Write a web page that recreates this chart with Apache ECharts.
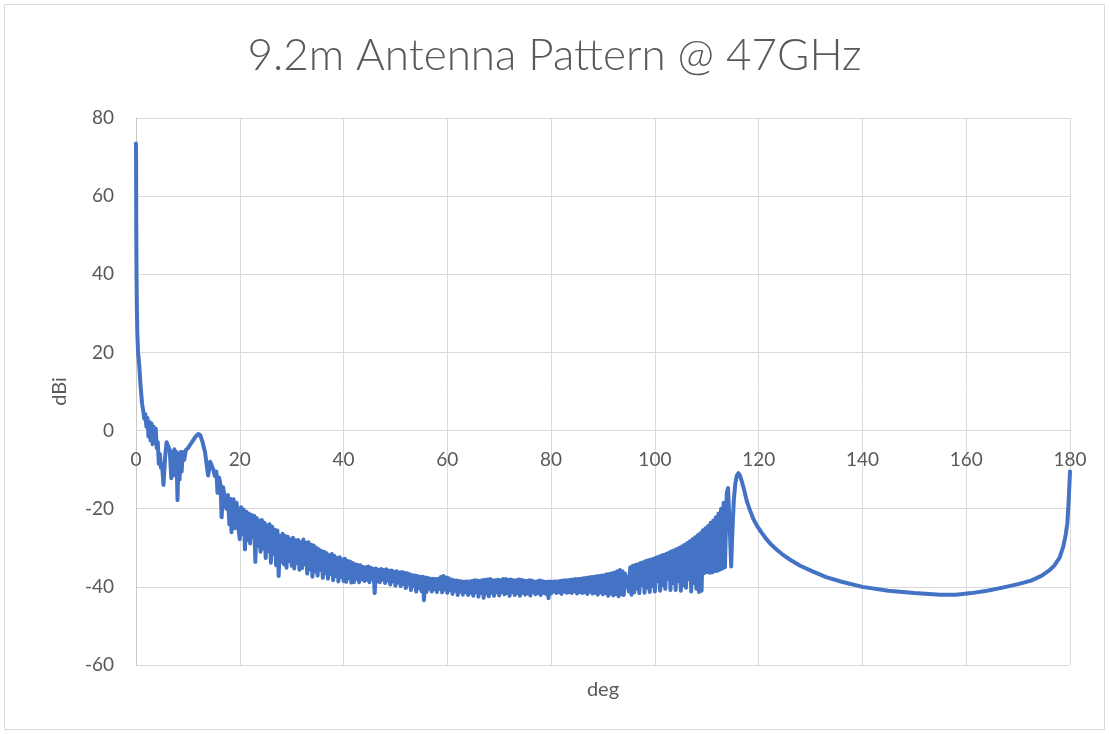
<!DOCTYPE html>
<html>
<head>
<meta charset="utf-8">
<script src="https://cdn.jsdelivr.net/npm/echarts@6/dist/echarts.min.js"></script>
<style>
html,body{margin:0;padding:0;background:#fff;}
#chart{width:1109px;height:734px;}
</style>
</head>
<body>
<div id="chart"></div>
<script>
// ---- Data: [deg, dBi] ----
const titleText = "9.2m Antenna Pattern @ 47GHz";
const xAxisName = "deg";
const yAxisName = "dBi";
const xTicks = [0, 20, 40, 60, 80, 100, 120, 140, 160, 180];
const yTicks = [-60, -40, -20, 0, 20, 40, 60, 80];

const mainLobe = [[0,73.5],[0.02,69],[0.05,52],[0.1,40],[0.15,33.5],[0.25,25],[0.4,20],[0.64,16.4],[0.85,12],[1.16,7],[1.4,5.0]];

const nearLobes = [[1.6,3.0],[1.8,4.2],[2.0,1.0],[2.2,3.2],[2.4,-1.5],[2.6,2.2],[2.8,-2.5],[3.0,1.8],[3.2,-3.5],[3.4,1.0],
[3.6,-2.0],[3.8,0.5],[4.0,-4.5],[4.2,-3.0],[4.4,-8.5],[4.6,-6.0],[4.8,-9.5],[5.0,-8.5],[5.3,-13.9],[5.6,-7.0],
[5.9,-3.0],[6.2,-2.8],[6.5,-5.0],[6.8,-12.2],[7.0,-5.5],[7.2,-11.5],[7.4,-4.8],[7.6,-9.0],[7.8,-5.5],[8.0,-17.8],
[8.2,-6.0],[8.4,-12.5],[8.6,-5.5],[8.8,-10.5],[9.0,-5.5],[9.3,-7.5],[9.6,-5.0],[10.0,-4.5],[10.5,-3.5],[11.0,-2.5],
[11.5,-1.5],[12.0,-0.9],[12.4,-1.2],[12.8,-2.8],[13.3,-5.5],[13.7,-9.5],[13.9,-11.5],[14.3,-8.0],[14.6,-7.8],[14.9,-10.0],
[15.2,-11.6],[15.5,-10.5],[15.7,-15.9],[16.0,-12.0],[16.3,-14.0],[16.5,-22.2],[16.8,-14.5],[17.1,-14.1],[17.4,-20.0],[17.7,-16.5],
[18.0,-24.0],[18.2,-17.5],[18.4,-26.0],[18.8,-17.6],[19.1,-25.0],[19.4,-18.5],[19.7,-24.5]];

// far sidelobe band, sampled every 0.25 deg from 20 to 95 deg (one row per degree)
const farLobes = [
[20.00,-27.8],[20.25,-19.6],[20.50,-26.5],[20.75,-20.2],
[21.00,-30.4],[21.25,-20.8],[21.50,-28.0],[21.75,-21.2],
[22.00,-28.9],[22.25,-21.6],[22.50,-27.2],[22.75,-21.8],
[23.00,-33.6],[23.25,-22.4],[23.50,-29.5],[23.75,-23.0],
[24.00,-31.0],[24.25,-22.9],[24.50,-30.2],[24.75,-23.6],
[25.00,-32.6],[25.25,-24.2],[25.50,-30.8],[25.75,-24.0],
[26.00,-33.8],[26.25,-24.6],[26.50,-31.5],[26.75,-25.4],
[27.00,-34.5],[27.25,-25.6],[27.50,-37.2],[27.75,-26.9],
[28.00,-33.6],[28.25,-26.4],[28.50,-34.2],[28.75,-27.0],
[29.00,-35.1],[29.25,-27.2],[29.50,-33.4],[29.75,-27.8],
[30.00,-34.6],[30.25,-27.4],[30.50,-35.3],[30.75,-28.1],
[31.00,-33.9],[31.25,-28.0],[31.50,-35.6],[31.75,-28.6],
[32.00,-35.2],[32.25,-27.9],[32.50,-34.3],[32.75,-28.7],
[33.00,-36.6],[33.25,-28.6],[33.50,-35.4],[33.75,-29.2],
[34.00,-37.4],[34.25,-29.4],[34.50,-36.1],[34.75,-30.0],
[35.00,-37.1],[35.25,-30.4],[35.50,-35.6],[35.75,-30.8],
[36.00,-37.7],[36.25,-31.0],[36.50,-36.5],[36.75,-31.4],
[37.00,-37.9],[37.25,-31.9],[37.50,-36.8],[37.75,-31.6],
[38.00,-38.3],[38.25,-32.1],[38.50,-37.2],[38.75,-32.6],
[39.00,-38.6],[39.25,-32.4],[39.50,-37.5],[39.75,-33.0],
[40.00,-38.5],[40.25,-32.8],[40.50,-38.7],[40.75,-33.4],
[41.00,-37.8],[41.25,-33.5],[41.50,-38.9],[41.75,-33.9],
[42.00,-38.8],[42.25,-34.2],[42.50,-37.9],[42.75,-34.4],
[43.00,-38.8],[43.25,-34.5],[43.50,-38.0],[43.75,-34.9],
[44.00,-38.5],[44.25,-35.0],[44.50,-38.2],[44.75,-34.8],
[45.00,-38.8],[45.25,-35.1],[45.50,-37.9],[45.75,-35.4],
[46.00,-41.6],[46.25,-35.3],[46.50,-38.6],[46.75,-35.6],
[47.00,-38.8],[47.25,-35.4],[47.50,-38.1],[47.75,-35.7],
[48.00,-39.0],[48.25,-35.5],[48.50,-38.4],[48.75,-35.9],
[49.00,-39.4],[49.25,-35.8],[49.50,-38.6],[49.75,-36.1],
[50.00,-39.7],[50.25,-36.0],[50.50,-38.9],[50.75,-36.3],
[51.00,-39.8],[51.25,-36.2],[51.50,-39.3],[51.75,-36.4],
[52.00,-40.3],[52.25,-36.5],[52.50,-39.4],[52.75,-36.8],
[53.00,-40.8],[53.25,-37.0],[53.50,-39.8],[53.75,-37.1],
[54.00,-41.2],[54.25,-37.2],[54.50,-40.3],[54.75,-37.4],
[55.00,-41.1],[55.25,-37.4],[55.50,-43.4],[55.75,-37.6],
[56.00,-41.3],[56.25,-37.7],[56.50,-40.4],[56.75,-37.9],
[57.00,-41.2],[57.25,-37.9],[57.50,-40.6],[57.75,-38.0],
[58.00,-41.3],[58.25,-37.9],[58.50,-40.5],[58.75,-37.5],
[59.00,-41.4],[59.25,-37.2],[59.50,-40.7],[59.75,-37.6],
[60.00,-41.5],[60.25,-37.8],[60.50,-40.8],[60.75,-38.1],
[61.00,-41.8],[61.25,-38.3],[61.50,-41.0],[61.75,-38.4],
[62.00,-42.1],[62.25,-38.5],[62.50,-41.2],[62.75,-38.6],
[63.00,-42.0],[63.25,-38.7],[63.50,-41.3],[63.75,-38.6],
[64.00,-42.1],[64.25,-38.6],[64.50,-41.5],[64.75,-38.5],
[65.00,-42.3],[65.25,-38.3],[65.50,-41.4],[65.75,-38.4],
[66.00,-42.5],[66.25,-38.5],[66.50,-41.6],[66.75,-38.3],
[67.00,-42.8],[67.25,-38.2],[67.50,-41.7],[67.75,-38.1],
[68.00,-42.4],[68.25,-38.0],[68.50,-41.5],[68.75,-38.3],
[69.00,-42.3],[69.25,-38.3],[69.50,-41.4],[69.75,-38.2],
[70.00,-42.2],[70.25,-38.3],[70.50,-41.3],[70.75,-38.0],
[71.00,-41.9],[71.25,-38.0],[71.50,-41.6],[71.75,-38.2],
[72.00,-42.3],[72.25,-38.1],[72.50,-41.4],[72.75,-38.3],
[73.00,-42.1],[73.25,-38.3],[73.50,-41.6],[73.75,-38.1],
[74.00,-42.3],[74.25,-38.2],[74.50,-41.5],[74.75,-38.4],
[75.00,-42.0],[75.25,-38.5],[75.50,-41.7],[75.75,-38.3],
[76.00,-42.2],[76.25,-38.4],[76.50,-41.4],[76.75,-38.6],
[77.00,-41.9],[77.25,-38.6],[77.50,-41.6],[77.75,-38.4],
[78.00,-42.1],[78.25,-38.5],[78.50,-41.5],[78.75,-38.7],
[79.00,-41.8],[79.25,-38.7],[79.50,-42.9],[79.75,-38.6],
[80.00,-41.7],[80.25,-38.7],[80.50,-41.2],[80.75,-38.6],
[81.00,-41.6],[81.25,-38.6],[81.50,-41.4],[81.75,-38.5],
[82.00,-41.8],[82.25,-38.4],[82.50,-41.2],[82.75,-38.3],
[83.00,-41.5],[83.25,-38.3],[83.50,-41.4],[83.75,-38.2],
[84.00,-41.6],[84.25,-38.1],[84.50,-41.1],[84.75,-38.0],
[85.00,-41.7],[85.25,-38.0],[85.50,-41.3],[85.75,-37.9],
[86.00,-41.6],[86.25,-37.8],[86.50,-41.4],[86.75,-37.7],
[87.00,-41.8],[87.25,-37.6],[87.50,-41.2],[87.75,-37.5],
[88.00,-41.7],[88.25,-37.4],[88.50,-41.5],[88.75,-37.3],
[89.00,-42.0],[89.25,-37.2],[89.50,-41.4],[89.75,-37.1],
[90.00,-41.9],[90.25,-37.0],[90.50,-41.6],[90.75,-36.8],
[91.00,-42.3],[91.25,-36.7],[91.50,-41.7],[91.75,-36.5],
[92.00,-42.2],[92.25,-36.3],[92.50,-41.8],[92.75,-36.0],
[93.00,-42.4],[93.25,-35.7],[93.50,-41.9],[93.75,-36.0],
[94.00,-42.1],[94.25,-36.6],[94.50,-37.8],[94.75,-37.5],
[95.00,-41.2]];

const spilloverRise = [[95.25,-35.0],[95.5,-42.0],[95.75,-34.6],[96.0,-41.4],[96.25,-34.4],[96.5,-40.5],[96.75,-34.2],[97.0,-41.6],[97.25,-33.9],[97.5,-39.5],
[97.75,-33.7],[98.0,-41.5],[98.25,-33.4],[98.5,-40.2],[98.75,-33.2],[99.0,-41.3],[99.25,-33.0],[99.5,-39.8],[99.75,-32.8],[100.0,-41.2],
[100.25,-32.5],[100.5,-38.5],[100.75,-32.3],[101.0,-41.0],[101.25,-32.0],[101.5,-39.5],[101.75,-31.8],[102.0,-40.5],[102.25,-31.5],[102.5,-38.0],
[102.75,-31.2],[103.0,-40.8],[103.25,-30.9],[103.5,-39.0],[103.75,-30.6],[104.0,-40.8],[104.25,-30.3],[104.5,-38.5],[104.75,-30.0],[105.0,-41.0],
[105.25,-29.6],[105.5,-39.5],[105.75,-29.2],[106.0,-40.2],[106.25,-28.8],[106.5,-38.0],[106.75,-28.3],[107.0,-41.2],[107.25,-27.8],[107.5,-39.0],
[107.75,-27.3],[108.0,-40.5],[108.25,-26.8],[108.5,-41.3],[108.75,-26.3],[109.0,-41.0],[109.25,-25.5],[109.5,-36.5],[109.75,-25.0],[110.0,-36.2],
[110.25,-24.4],[110.5,-36.4],[110.75,-23.6],[111.0,-36.3],[111.25,-23.0],[111.5,-36.0],[111.75,-22.2],[112.0,-35.9],[112.25,-21.2],[112.5,-35.6],
[112.75,-20.0],[113.0,-35.3],[113.25,-18.5],[113.5,-35.0],[113.85,-16.0],[114.1,-14.7],[114.4,-24.0],[114.7,-34.8],[114.9,-27.0]];

const spilloverPeak = [[115.2,-18.0],[115.5,-13.5],[115.8,-11.5],[116.1,-10.9],[116.4,-11.5],[116.8,-13.2],[117.2,-15.2],[117.7,-18.0],[118.3,-20.3],[119.0,-22.7],
[119.7,-24.4],[120.5,-26.0],[121.5,-27.8],[122.5,-29.3],[123.5,-30.5],[124.5,-31.6],[126.0,-33.0],[128.0,-34.6],[130.5,-36.1],[133.0,-37.5],
[136.0,-38.7],[140.0,-40.0],[145.0,-41.0],[150.0,-41.6],[155.0,-42.0],[158.0,-42.0],[161.0,-41.6],[164.0,-41.0],[167.0,-40.2],[170.0,-39.3],
[172.5,-38.4],[174.5,-37.2],[176.0,-35.8],[177.0,-34.5],[178.0,-32.5],[178.7,-29.7],[179.2,-26.5],[179.5,-23.5],[179.7,-19.0],[179.85,-15.0],
[180.0,-10.5]];

const pattern = [].concat(mainLobe, nearLobes, farLobes, spilloverRise, spilloverPeak);

const chart = echarts.init(document.getElementById('chart'), null, {renderer: 'canvas'});
const labelColor = '#595959';
const gridColor = '#d9d9d9';
const font = 'Lato, "Open Sans", "Noto Sans", sans-serif';

const gridTop = 118, gridBottom = 69, chartH = 734;
const plotH = chartH - gridTop - gridBottom;
const yMin = yTicks[0], yMax = yTicks[yTicks.length - 1];
// move the horizontal axis up to the y = 0 line (Excel style crossing)
const xAxisOffset = -plotH * (0 - yMin) / (yMax - yMin);

chart.setOption({
  backgroundColor: '#ffffff',
  animation: false,
  title: {
    text: titleText,
    left: 'center',
    top: 29,
    textStyle: {fontFamily: font, fontSize: 44, fontWeight: 300, color: labelColor}
  },
  grid: {left: 136, right: 39, top: gridTop, bottom: gridBottom, containLabel: false},
  xAxis: {
    type: 'value',
    min: xTicks[0],
    max: xTicks[xTicks.length - 1],
    interval: xTicks[1] - xTicks[0],
    position: 'bottom',
    offset: xAxisOffset,
    axisLine: {show: true, onZero: false, lineStyle: {color: gridColor, width: 1}},
    axisTick: {show: false},
    axisLabel: {color: labelColor, fontFamily: font, fontSize: 19, margin: 20},
    splitLine: {show: true, lineStyle: {color: gridColor, width: 1}}
  },
  yAxis: {
    type: 'value',
    min: yMin,
    max: yMax,
    interval: yTicks[1] - yTicks[0],
    name: yAxisName,
    nameLocation: 'middle',
    nameGap: 66,
    nameRotate: 90,
    nameTextStyle: {color: labelColor, fontFamily: font, fontSize: 20},
    axisLine: {show: true, onZero: false, lineStyle: {color: '#c8c8c8', width: 1}},
    axisTick: {show: false},
    axisLabel: {color: labelColor, fontFamily: font, fontSize: 19, margin: 22},
    splitLine: {show: true, lineStyle: {color: gridColor, width: 1}}
  },
  graphic: [
    {type: 'rect', shape: {x: 4.5, y: 4.5, width: 1100, height: 725}, style: {fill: 'none', stroke: '#d9d9d9', lineWidth: 1}, silent: true, z: -1},
    {type: 'text', x: 603, y: 690, style: {text: xAxisName, fill: labelColor, font: '20px ' + font, textAlign: 'center', textVerticalAlign: 'middle'}}
  ],
  series: [{
    type: 'line',
    data: pattern,
    showSymbol: false,
    symbol: 'none',
    sampling: null,
    lineStyle: {color: '#4472C4', width: 4, join: 'round', cap: 'round'},
    itemStyle: {color: '#4472C4'},
    clip: false
  }]
});
</script>
</body>
</html>
